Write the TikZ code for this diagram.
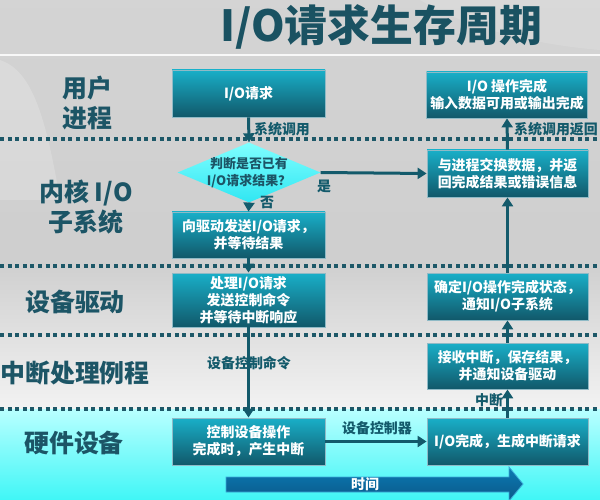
\documentclass[tikz,border=0pt]{standalone}
\usepackage{fontspec}
\setmainfont{Noto Sans CJK SC}
\usetikzlibrary{arrows.meta,shapes.geometric}
\definecolor{titlec}{HTML}{1A5262}
\definecolor{lanec}{HTML}{1C5566}
\definecolor{dotc}{HTML}{1D5868}
\definecolor{arrc}{HTML}{135A6B}
\definecolor{boxtop}{HTML}{19AFC8}
\definecolor{boxbot}{HTML}{11586A}
\definecolor{boxline}{HTML}{8FBAC6}
\begin{document}
\begin{tikzpicture}[x=1bp,y=-1bp,
  stepbox/.style={draw=boxline,line width=0.8bp,top color=boxtop,bottom color=boxbot,
    text=white,font=\fontsize{14}{17}\selectfont\bfseries,align=center,inner sep=0pt},
  leftbox/.style={stepbox,minimum width=153bp},
  rightbox/.style={stepbox,minimum width=161bp},
  lanelabel/.style={text=lanec,font=\fontsize{25}{31}\selectfont\bfseries,align=center},
  conlabel/.style={text=arrc,font=\fontsize{14}{16}\selectfont\bfseries,inner sep=0pt},
  dotline/.style={dotc,line width=4bp,dash pattern=on 4bp off 3.6bp},
  conn/.style={arrc,line width=3bp,-{Triangle[length=9bp,width=11bp]}}
]
\useasboundingbox (0,0) rectangle (600,500);
% background
\shade[top color=black!17,bottom color=black!19] (0,0) rectangle (600,260);
\shade[top color=black!19,bottom color=black!5] (0,260) rectangle (600,409);
\shade[top color={rgb,255:red,185;green,255;blue,255},bottom color={rgb,255:red,64;green,246;blue,246}] (0,409) rectangle (600,500);
\fill[white,opacity=0.18] (0,60) .. controls (30,70) and (45,110) .. (60,200) -- (0,200) -- cycle;
\fill[white,opacity=0.12] (420,0) .. controls (470,30) and (540,45) .. (600,50) -- (600,0) -- cycle;
\draw[white,opacity=0.85,line width=2bp] (0,55) -- (600,55);
% title
\node[text=titlec,font=\fontsize{43}{48}\selectfont\bfseries] (title) at (381,27) {I/O请求生存周期};
% dotted separators
\draw[dotline] (0,139) -- (600,139);
\draw[dotline] (0,266) -- (600,266);
\draw[dotline] (0,335) -- (600,335);
\draw[dotline] (0,409) -- (600,409);
% lane labels
\node[lanelabel] (l1) at (87,103) {用户\\进程};
\node[lanelabel] (l2) at (86,207) {内核 I/O\\子系统};
\node[lanelabel] (l3) at (75,302) {设备驱动};
\node[lanelabel] (l4) at (75,373) {中断处理例程};
\node[lanelabel] (l5) at (74,443) {硬件设备};
% left column
\node[leftbox,minimum height=47bp] (A) at (248.5,93.5) {I/O请求};
\node[diamond,minimum width=143bp,minimum height=60bp,inner sep=0pt,
  top color={rgb,255:red,128;green,255;blue,255},bottom color={rgb,255:red,48;green,230;blue,242}] (D) at (249,172.5) {};
\node[text=lanec,font=\fontsize{13}{17}\selectfont\bfseries,align=center] (Dt) at (249,172.5) {判断是否已有\\I/O请求结果？};
\node[leftbox,minimum height=46bp] (B) at (248.5,235) {向驱动发送I/O请求，\\并等待结果};
\node[leftbox,minimum height=54bp] (C) at (248.5,300) {处理I/O请求\\发送控制命令\\并等待中断响应};
\node[leftbox,minimum height=47bp] (E) at (248.5,441.5) {控制设备操作\\完成时，产生中断};
% right column
\node[rightbox,minimum height=46bp] (R1) at (507,95) {I/O 操作完成\\输入数据可用或输出完成};
\node[rightbox,minimum height=47bp] (R2) at (507.5,173.5) {与进程交换数据，并返\\回完成结果或错误信息};
\node[rightbox,minimum height=47bp] (R3) at (507.5,296.5) {确定I/O操作完成状态，\\通知I/O子系统};
\node[rightbox,minimum height=46bp] (R4) at (507.5,366) {接收中断，保存结果，\\并通知设备驱动};
\node[rightbox,minimum height=47bp] (R5) at (507.5,441.5) {I/O完成，生成中断请求};
% connectors
\draw[conn] (A.south) -- (D.north);
\draw[conn] (D.south) -- (B.north);
\draw[conn] (B.south) -- (C.north);
\draw[conn] (C.south) -- (E.north);
\draw[conn] (D.east) -- (R2.west);
\draw[conn] (E.east) -- (R5.west);
\draw[conn] (R5.north) -- (R4.south);
\draw[conn] (R4.north) -- (R3.south);
\draw[conn] (R3.north) -- (R2.south);
\draw[conn] (R2.north) -- (R1.south);
% connector labels
\node[conlabel] (c1) at (282,129) {系统调用};
\node[conlabel] (c2) at (267,203) {否};
\node[conlabel] (c3) at (324,186) {是};
\node[conlabel] (c4) at (249,363) {设备控制命令};
\node[conlabel] (c5) at (377,428) {设备控制器};
\node[conlabel] (c6) at (489,400) {中断};
\node[conlabel] (c7) at (556,129) {系统调用返回};
% time arrow
\shade[top color={rgb,255:red,12;green,122;blue,180},bottom color={rgb,255:red,10;green,88;blue,136},
  draw={rgb,255:red,60;green,170;blue,215},line width=0.8bp]
  (226,477) -- (509,477) -- (509,467) -- (523,484) -- (509,501) -- (509,492) -- (226,492) -- cycle;
\node[text=white,font=\fontsize{14}{16}\selectfont\bfseries] (time) at (365,484.5) {时间};
\end{tikzpicture}
\end{document}
